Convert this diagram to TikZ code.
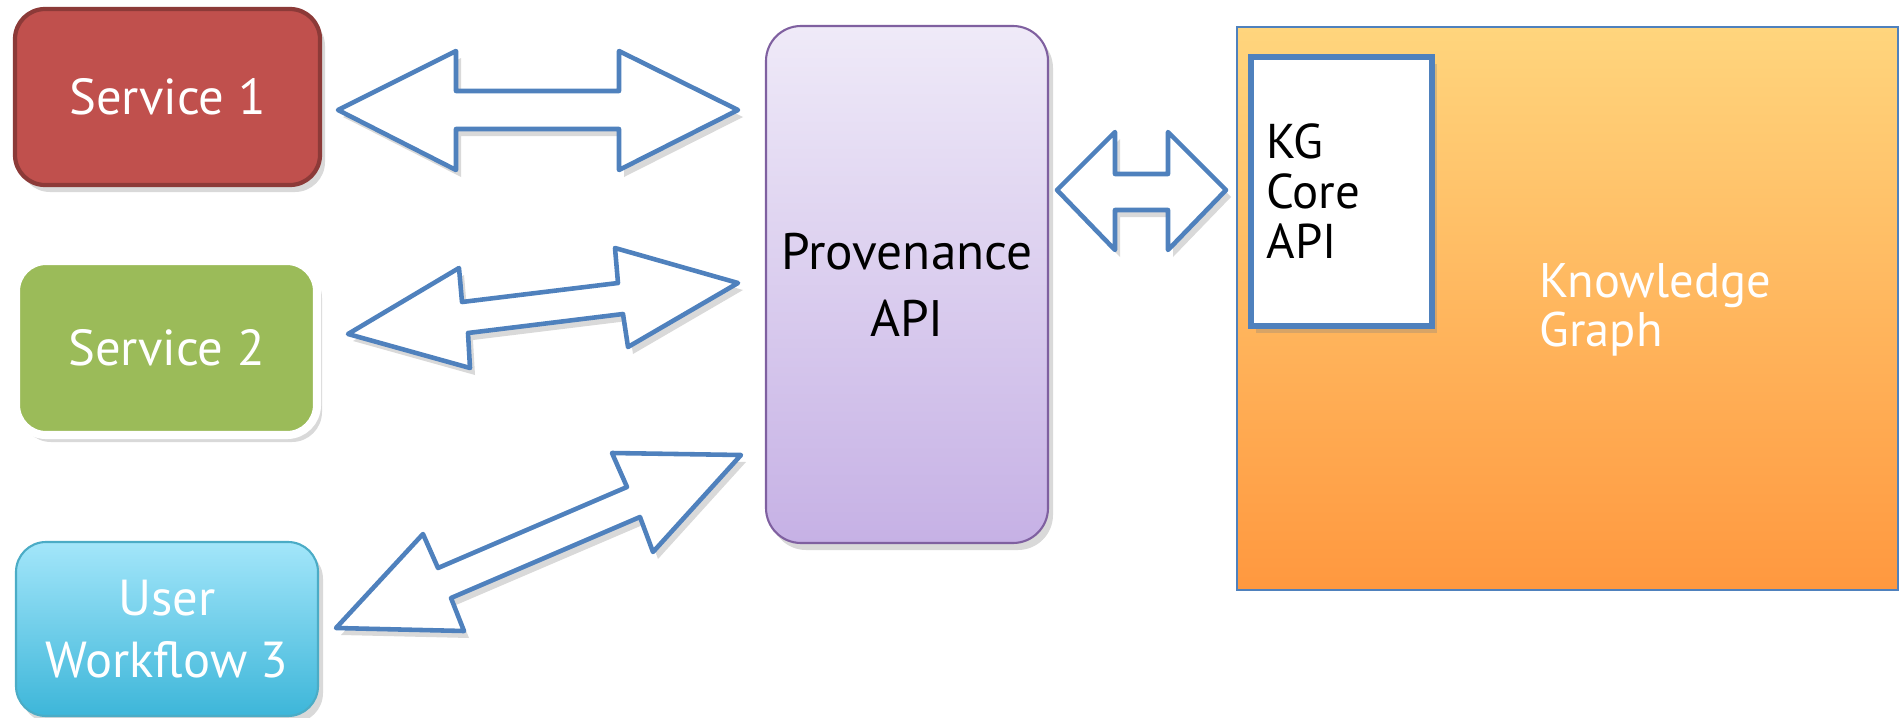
\documentclass[tikz,border=0pt]{standalone}
\usepackage{fontspec}
\setmainfont{PT Sans}
\usetikzlibrary{shadows}

\definecolor{svcred}{HTML}{C0504D}
\definecolor{svcredline}{HTML}{8C3A38}
\definecolor{svcgreen}{HTML}{9BBB59}
\definecolor{wfltop}{HTML}{A3E6FA}
\definecolor{wflbot}{HTML}{3DB6D9}
\definecolor{wflline}{HTML}{4BACC6}
\definecolor{provtop}{HTML}{EFEAF8}
\definecolor{provbot}{HTML}{C6B1E5}
\definecolor{provline}{HTML}{7F60A0}
\definecolor{kgtop}{HTML}{FFD57D}
\definecolor{kgbot}{HTML}{FF983F}
\definecolor{arrowblue}{HTML}{4F81BD}

\tikzset{
  box/.style={rounded corners=3mm, inner sep=0pt, align=center,
    font=\fontsize{14.4}{17.5}\selectfont},
  shade/.style={drop shadow={opacity=0.3, shadow xshift=0.5mm, shadow yshift=-0.7mm}},
  blockarrow/.style={draw=arrowblue, fill=white, line width=1.3pt, line join=round, shade},
}

\begin{document}
\begin{tikzpicture}[x=0.1mm, y=-0.1mm]
    \useasboundingbox (0,0) rectangle (1903,718);
    \node[box,shade,fill=svcred,draw=svcredline,line width=1.2pt,text=white,
          minimum width=30.5mm,minimum height=17.6mm] (service1) at (167.5,97) {Service 1};
    \node[box,shade,fill=svcgreen,draw=white,line width=2.3pt,text=white,
          minimum width=30.1mm,minimum height=17.4mm] (service2) at (166.5,348) {Service 2};
    \node[box,shade,top color=wfltop,bottom color=wflbot,draw=wflline,line width=0.6pt,text=white,
          minimum width=30.2mm,minimum height=17.4mm] (workflow) at (167,629) {User\\Workflow 3};
    \node[box,shade,rounded corners=3.5mm,top color=provtop,bottom color=provbot,draw=provline,
          line width=0.6pt,minimum width=28.2mm,minimum height=51.7mm,
          font=\fontsize{14.6}{19}\selectfont] (provapi) at (907,284.5) {Provenance\\API};
    \node[box,rounded corners=0pt,top color=kgtop,bottom color=kgbot,draw=arrowblue,line width=0.6pt,
          minimum width=66.1mm,minimum height=56.3mm] (kg) at (1567.5,308.5) {};
    \node[box,anchor=west,align=left,text=white,font=\fontsize{13.8}{14}\selectfont]
          (kgtext) at (1539,310) {Knowledge\\Graph};
    \node[box,shade,rounded corners=0pt,fill=white,draw=arrowblue,line width=1.5pt,align=left,
          text width=15mm,minimum width=18.1mm,minimum height=26.9mm,
          font=\fontsize{13.9}{14.2}\selectfont] (kgcore) at (1341.5,191.5) {KG\\Core\\API};
    \draw[blockarrow] (338,110) -- (456,51) -- (456,91) -- (619,91) -- (619,51) -- (738,110)
          -- (619,170) -- (619,129) -- (456,129) -- (456,170) -- cycle;
    \draw[blockarrow] (348,334) -- (459,268) -- (462,302) -- (618,283) -- (615,248) -- (738,283)
          -- (628,347) -- (623,314) -- (468,333) -- (470,368) -- cycle;
    \draw[blockarrow] (336,628) -- (423,534) -- (438,568) -- (627,487) -- (612,453) -- (741,455)
          -- (653,552) -- (640,517) -- (451,598) -- (464,631) -- cycle;
    \draw[blockarrow] (1057,190) -- (1115,132) -- (1115,174) -- (1168,174) -- (1168,132) -- (1226,190)
          -- (1168,250) -- (1168,210) -- (1115,210) -- (1115,250) -- cycle;
\end{tikzpicture}
\end{document}
